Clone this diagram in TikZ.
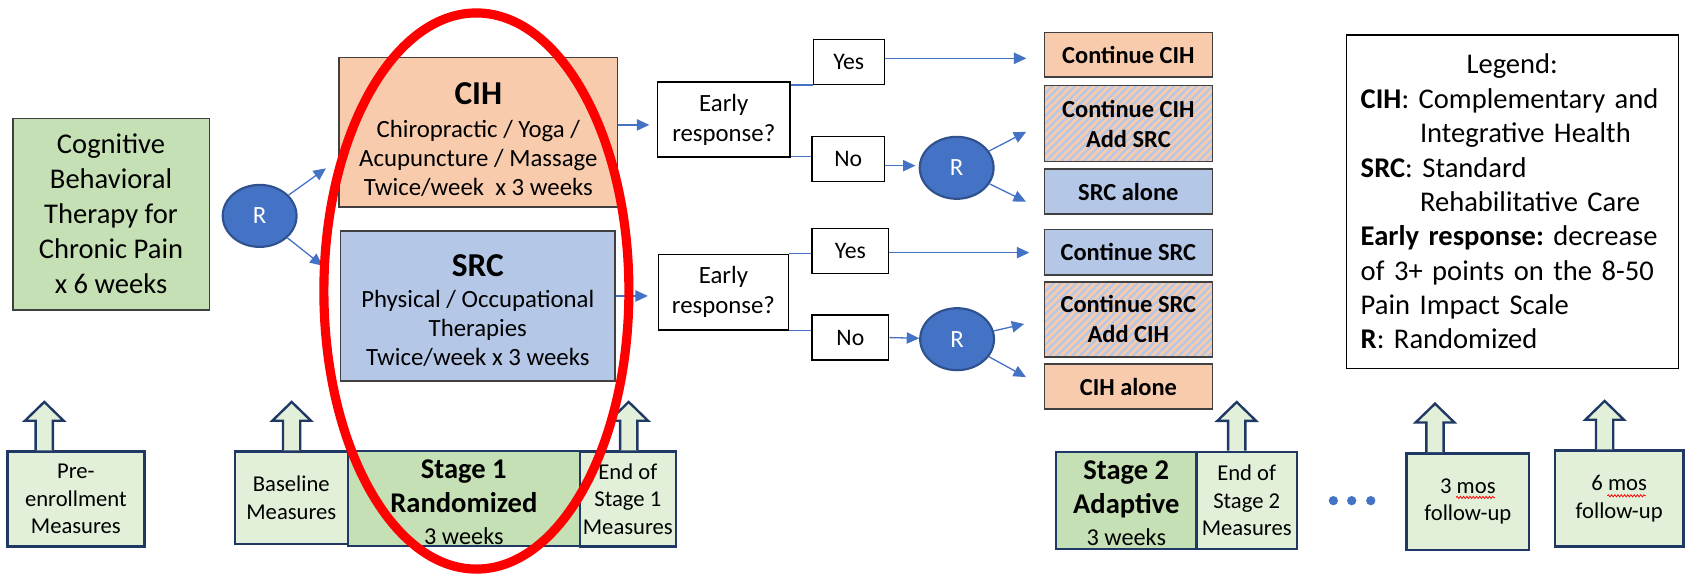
\documentclass[tikz,border=0pt]{standalone}
\usepackage{fontspec}
\setmainfont{Carlito}
\frenchspacing
\usetikzlibrary{calc,arrows.meta,patterns.meta,shapes.geometric,decorations.pathmorphing}

\definecolor{cbtgreen}{HTML}{C5E0B4}
\definecolor{measgreen}{HTML}{E2F0D9}
\definecolor{cihorange}{HTML}{F8CBAD}
\definecolor{srcblue}{HTML}{B4C7E7}
\definecolor{rblue}{HTML}{4472C4}
\definecolor{rborder}{HTML}{2F528F}
\definecolor{navyline}{HTML}{1F3864}
\definecolor{boxgray}{HTML}{404040}

\tikzset{
  topbox/.style={draw=boxgray, line width=1.5pt, align=center, inner sep=0pt},
  armbox/.style={topbox, font=\fontsize{23}{27}\selectfont},
  qbox/.style={draw=black, line width=1.2pt, align=center, inner sep=0pt, font=\fontsize{23}{27.8}\selectfont},
  ansbox/.style={qbox, minimum height=41.7pt, font=\fontsize{22}{26}\selectfont},
  outbox/.style={draw=boxgray, line width=1.5pt, align=center, inner sep=0pt, minimum width=155.8pt, font=\fontsize{22.7}{28}\selectfont\bfseries},
  mixed/.style={preaction={fill=cihorange}, pattern={Lines[angle=45,distance=5pt,line width=2.2pt]}, pattern color=srcblue},
  randnode/.style={ellipse, draw=rborder, line width=2pt, fill=rblue, text=white, minimum width=68.5pt, minimum height=57.5pt, inner sep=0pt, font=\fontsize{23}{26}\selectfont},
  measbox/.style={draw=navyline, line width=2.2pt, fill=measgreen, align=center, inner sep=0pt, font=\fontsize{21}{25.5}\selectfont},
  stagebox/.style={measbox, fill=cbtgreen, font=\fontsize{26.5}{31.5}\selectfont\bfseries},
  flowarrow/.style={draw=rblue, line width=1.2pt, -{Triangle[length=11.5pt,width=10.5pt]}},
  flowline/.style={draw=rblue, line width=1.2pt},
  spellmark/.style={draw=red, line width=0.7pt, decorate, decoration={snake, amplitude=1pt, segment length=3pt}}
}
\newcommand{\measarrow}[2]{\draw[draw=navyline, line width=2.2pt, fill=measgreen, line join=miter]
  ($(#1,0 |- #2.north)+(-8,0)$) -- ++(0,-27.5) -- ++(-10,0) -- ++(18,-17.5) -- ++(18,17.5) -- ++(-10,0) -- ++(0,27.5);}

\begin{document}
\begin{tikzpicture}[x=1pt,y=-1pt]
	%%%%% START %%%%%
	\useasboundingbox (0,0) rectangle (1568,533);

	\node[topbox, fill=cbtgreen, minimum width=182.4pt, minimum height=177.8pt, font=\fontsize{26.5}{32.5}\selectfont] (cbt) at (103,198.7) {Cognitive\\Behavioral\\Therapy for\\Chronic Pain\\x 6 weeks};
	\node[randnode] (rone) at (240.9,200.3) {R};

	\node[armbox, fill=cihorange, minimum width=258pt, minimum height=138.6pt] (cih) at (443.8,122.5) {\rule{0pt}{34pt}{\fontsize{31}{36}\selectfont\bfseries CIH}\\[4pt]Chiropractic / Yoga /\\Acupuncture / Massage\\Twice/week\ \ x 3 weeks};
	\node[armbox, fill=srcblue, minimum width=254.6pt, minimum height=139.2pt] (src) at (443.3,284.1) {\rule{0pt}{28.5pt}{\fontsize{31}{36}\selectfont\bfseries SRC}\\[2pt]Physical / Occupational\\Therapies\\Twice/week x 3 weeks};

	\draw[flowarrow] (rone) -- ($(cih.west)+(-11.7,33.7)$);
	\draw[flowarrow] (rone) -- ($(src.west)+(-16,-37.6)$);

	% first decision
	\node[qbox, minimum width=123pt, minimum height=69.6pt] (earlya) at (671.5,110.9) {Early\\response?};
	\node[ansbox, minimum width=66pt] (yesa) at (787.5,57.4) {Yes};
	\node[ansbox, minimum width=67pt] (noa) at (787,147.7) {No};
	\node[randnode] (rtwo) at (887.6,155.7) {R};

	\draw[flowarrow, shorten >=7pt] ([yshift=-5pt]earlya.west -| cih.east) -- ([yshift=-5pt]earlya.west);
	\draw[flowline] (earlya.north east |- yesa.south) -- (yesa.south west);
	\draw[flowline] ([yshift=1.3pt]earlya.south east) -- ([yshift=1.3pt]earlya.south east -| noa.west);
	\draw[flowarrow, shorten >=3pt] ([yshift=-6pt]noa.east) -- ([yshift=-6pt]noa.east -| rtwo.west);

	% second decision
	\node[qbox, minimum width=121pt, minimum height=70.2pt] (earlyb) at (671.2,271.1) {Early\\response?};
	\node[ansbox, minimum width=71pt] (yesb) at (789,232.8) {Yes};
	\node[ansbox, minimum width=71pt] (nob) at (789,313.2) {No};
	\node[randnode] (rthree) at (888,314.7) {R};

	\draw[flowarrow, shorten >=9pt] ([yshift=-3.5pt]earlyb.west -| src.east) -- ([yshift=-3.5pt]earlyb.west);
	\draw[flowline] (earlyb.north east) -- (earlyb.north east -| yesb.west);
	\draw[flowline] (earlyb.south east) -- (earlyb.south east -| nob.west);
	\draw[flowarrow] (nob.east) -- (rthree);

	% stage 2 treatments
	\node[outbox, minimum height=41.7pt, fill=cihorange] (contcih) at (1046.9,50.85) {Continue CIH};
	\node[outbox, minimum height=70.5pt, mixed] (cihsrc) at (1046.9,114.75) {Continue CIH\\Add SRC};
	\node[outbox, minimum height=41.8pt, fill=srcblue] (srcalone) at (1046.9,177.9) {SRC alone};
	\node[outbox, minimum height=42pt, fill=srcblue] (contsrc) at (1046.9,234) {Continue SRC};
	\node[outbox, minimum height=69.4pt, mixed] (srccih) at (1046.9,296.3) {Continue SRC\\Add CIH};
	\node[outbox, minimum height=41.5pt, fill=cihorange] (cihalone) at (1046.9,358.75) {CIH alone};

	\draw[flowarrow, shorten >=16pt] ([yshift=3.3pt]yesa.east) -- ([yshift=3.3pt]yesa.east -| contcih.west);
	\draw[flowarrow] (rtwo) -- ($(cihsrc.west)+(-15.8,7.5)$);
	\draw[flowarrow] (rtwo) -- ($(srcalone.west)+(-16.4,9.2)$);
	\draw[flowarrow, shorten >=13.3pt] ([yshift=-1.6pt]yesb.east) -- ([yshift=-1.6pt]yesb.east -| contsrc.west);
	\draw[flowarrow] (rthree) -- ($(srccih.west)+(-18,4.3)$);
	\draw[flowarrow] (rthree) -- ($(cihalone.west)+(-16.4,-8.9)$);

	% legend
	\node[draw=black, line width=1.2pt, minimum width=308pt, minimum height=309.2pt, text width=281pt, align=left, inner sep=0pt, font=\fontsize{26.5}{31.9}\selectfont] (legend) at (1403,187.1) {\makebox[281pt]{Legend:}\\\textbf{CIH}: Complementary and\\\hspace*{55pt}Integrative Health\\\textbf{SRC}: Standard\\\hspace*{55pt}Rehabilitative Care\\\textbf{Early response:} decrease\\of 3+ points on the 8-50\\Pain Impact Scale\\\textbf{R}: Randomized};

	% timeline
	\node[measbox, minimum width=127.2pt, minimum height=88pt] (preenr) at (70.4,463) {Pre-\\enrollment\\Measures};
	\node[measbox, minimum width=104.6pt, minimum height=85.5pt] (baseline) at (270.3,461.75) {Baseline\\Measures};
	\node[stagebox, minimum width=215.5pt, minimum height=88.3pt] (stageone) at (430.35,462.35) {\rule{0pt}{25pt}Stage 1\\Randomized\\[-2pt]{\fontsize{22.5}{27}\selectfont\mdseries 3 weeks}};
	\node[measbox, minimum width=88.8pt, minimum height=88.2pt] (endone) at (582.5,463.1) {End of\\Stage 1\\Measures};

	\node[stagebox, minimum width=130.5pt, minimum height=90.3pt] (stagetwo) at (1045,464.25) {\rule{0pt}{23pt}Stage 2\\Adaptive\\[-2pt]{\fontsize{22.5}{27}\selectfont\mdseries 3 weeks}};
	\node[measbox, minimum width=92.8pt, minimum height=90.3pt] (endtwo) at (1156.7,464.25) {End of\\Stage 2\\Measures};
	\foreach \x in {1237.1,1254.1,1271.8} \fill[rblue] (\x,464.5) circle[radius=4.3pt];
	\node[measbox, minimum width=113.6pt, minimum height=89.7pt] (threemos) at (1361.9,465.45) {3 mos\\follow-up};
	\node[measbox, minimum width=119pt, minimum height=89.1pt] (sixmos) at (1502.3,462.65) {6 mos\\follow-up};
	\draw[spellmark] (1351,461.5) -- (1387,461.5);
	\draw[spellmark] (1491.3,460) -- (1527.2,460);

	\measarrow{41.1}{preenr}
	\measarrow{270.6}{baseline}
	\measarrow{583.3}{endone}
	\measarrow{1147.4}{endtwo}
	\measarrow{1331.4}{threemos}
	\measarrow{1488.8}{sixmos}

	\draw[red, line width=8.5pt] (442,270) ellipse[x radius=141.5pt, y radius=258pt];
	%%%%% END %%%%%
\end{tikzpicture}
\end{document}
